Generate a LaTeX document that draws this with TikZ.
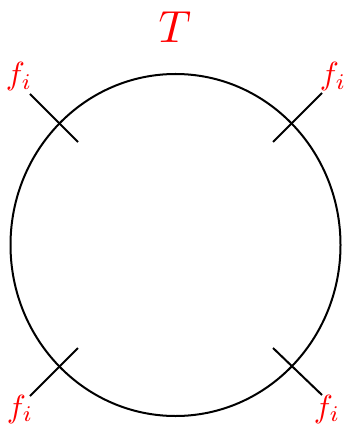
\documentclass[tikz,border=0pt]{standalone}
\begin{document}
\begin{tikzpicture}[x=1pt,y=-1pt,
  wire/.style={line width=2pt,black},
  lab/.style={text=red,inner sep=0pt,scale=3.2},
  title/.style={text=red,inner sep=0pt,scale=4.5}]
\useasboundingbox (0,0) rectangle (347,427);
\draw[wire] (175.5,245) ellipse [x radius=165, y radius=171];
% tick ends
\coordinate (a1) at (30,94);  \coordinate (a2) at (78,142);
\coordinate (b1) at (322,93); \coordinate (b2) at (273,142);
\coordinate (c1) at (30,396); \coordinate (c2) at (78,348);
\coordinate (d1) at (322,395);\coordinate (d2) at (273,348);
\draw[wire] (a1) -- (a2);
\draw[wire] (b1) -- (b2);
\draw[wire] (c1) -- (c2);
\draw[wire] (d1) -- (d2);
\node[title] (T) at (175,27) {$T$};
\node[lab] (fa) at (19,77) {$f_i$};
\node[lab] (fb) at (333,77) {$f_i$};
\node[lab] (fc) at (20,409) {$f_i$};
\node[lab] (fd) at (327,409) {$f_i$};
\end{tikzpicture}
\end{document}
